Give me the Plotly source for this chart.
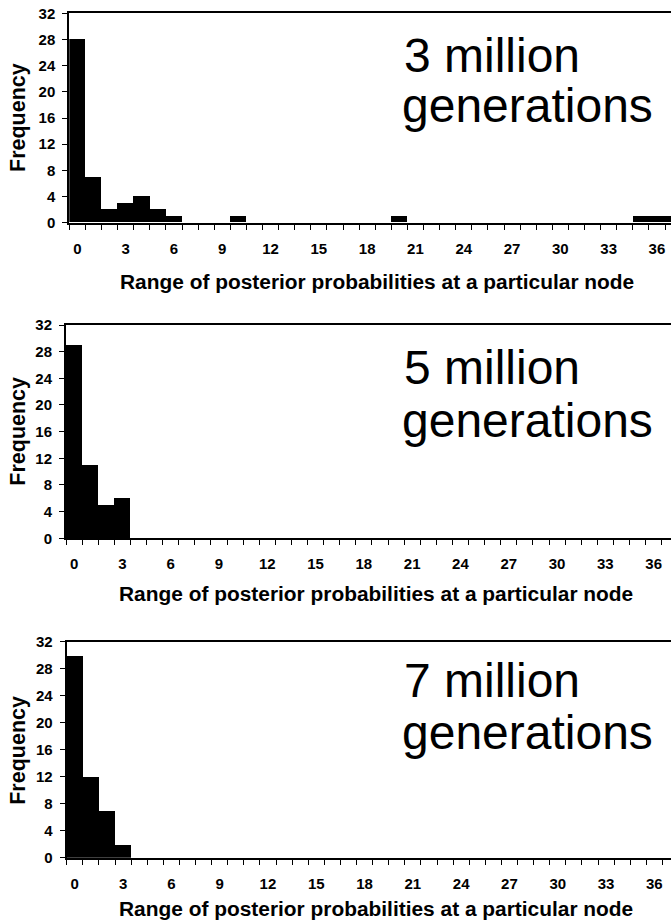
import plotly.graph_objects as go

# ---- data ----
categories = list(range(38))
tick_values = list(range(0, 37, 3))
tick_labels = [str(v) for v in tick_values]
y_ticks = list(range(0, 33, 4))

freq_3m = [28, 7, 2, 3, 4, 2, 1, 0, 0, 0, 1, 0, 0, 0, 0, 0, 0, 0, 0, 0,
           1, 0, 0, 0, 0, 0, 0, 0, 0, 0, 0, 0, 0, 0, 0, 1, 1, 1]
freq_5m = [29, 11, 5, 6] + [0] * 34
freq_7m = [30, 12, 7, 2] + [0] * 34

panel_labels = [("3 million", "generations"), ("5 million", "generations"), ("7 million", "generations")]
x_title = "Range of posterior probabilities at a particular node"
y_title = "Frequency"

W, H = 671, 924
FONT = "Liberation Sans, Arial, sans-serif"


def fx(px):
    return px / W


def fy(py):
    return 1 - py / H


# panel geometry in page pixels: (left, top, bottom)
panels = [(69.3, 13.3, 222.7), (66.0, 325.0, 538.3), (66.7, 641.7, 857.7)]
cat_px = 16.1
series = [freq_3m, freq_5m, freq_7m]

# text positions (page pixels)
label_pos = [((402, 56), (400, 105.5)), ((402, 367.5), (400, 420.5)), ((402, 680.5), (400, 732.5))]
xtitle_y = [281.7, 593.0, 908.0]
ytitle_y = [118.0, 431.7, 750.8]

fig = go.Figure()
annotations = []
for i, (vals, (left, top, bottom)) in enumerate(zip(series, panels)):
    n = i + 1
    xa = "x" if n == 1 else f"x{n}"
    ya = "y" if n == 1 else f"y{n}"
    fig.add_trace(go.Bar(x=categories, y=vals, width=1.0, marker=dict(color="black", line=dict(width=0)),
                         xaxis=xa, yaxis=ya, showlegend=False, hoverinfo="skip"))
    xmax = (W - left) / cat_px - 0.5
    xkey = "xaxis" if n == 1 else f"xaxis{n}"
    ykey = "yaxis" if n == 1 else f"yaxis{n}"
    fig.update_layout(**{
        xkey: dict(domain=[fx(left), 1.0], anchor=ya, range=[-0.5, xmax], automargin=False,
                   tickmode="array", tickvals=tick_values, ticktext=tick_labels,
                   ticks="", showgrid=False, zeroline=False,
                   showline=True, linecolor="black", linewidth=2, mirror=True,
                   ticklabelstandoff=11,
                   tickfont=dict(family=FONT, size=15, color="black", weight="bold"),
                   minor=dict(tickmode="array", tickvals=[k - 0.5 for k in range(39)],
                              ticks="outside", ticklen=5, tickwidth=1, tickcolor="black", showgrid=False)),
        ykey: dict(domain=[fy(bottom), fy(top)], anchor=xa, range=[0, 32], automargin=False,
                   tickmode="array", tickvals=y_ticks, ticks="outside", ticklen=5, tickwidth=1,
                   tickcolor="black", showgrid=False, zeroline=False,
                   showline=True, linecolor="black", linewidth=2, mirror=False,
                   ticklabelstandoff=4,
                   tickfont=dict(family=FONT, size=15, color="black", weight="bold")),
    })
    (l1x, l1y), (l2x, l2y) = label_pos[i]
    for txt, px, py in [(panel_labels[i][0], l1x, l1y), (panel_labels[i][1], l2x, l2y)]:
        annotations.append(dict(text=txt, x=fx(px), y=fy(py), xref="paper", yref="paper",
                                xanchor="left", yanchor="middle", showarrow=False,
                                font=dict(family=FONT, size=48, color="black")))
    annotations.append(dict(text=x_title, x=fx((left + W) / 2 + 7), y=fy(xtitle_y[i]),
                            xref="paper", yref="paper", xanchor="center", yanchor="middle",
                            showarrow=False,
                            font=dict(family=FONT, size=20.9, color="black", weight="bold")))
    annotations.append(dict(text=y_title, x=fx(18), y=fy(ytitle_y[i]), xref="paper", yref="paper",
                            xanchor="center", yanchor="middle", textangle=-90, showarrow=False,
                            font=dict(family=FONT, size=21.5, color="black", weight="bold")))

fig.update_layout(width=W, height=H, margin=dict(l=0, r=0, t=0, b=0, autoexpand=False),
                  template="none",
                  paper_bgcolor="white", plot_bgcolor="white", bargap=0,
                  annotations=annotations)
fig.write_html("out.html", config={"displayModeBar": False},
               post_script="document.body.style.margin='0';document.body.style.padding='0';"
                           "document.documentElement.style.overflow='hidden';")
